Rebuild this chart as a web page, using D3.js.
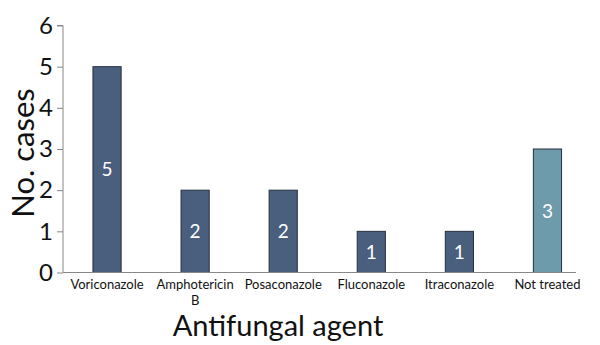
<!DOCTYPE html>
<html><head><meta charset="utf-8">
<script src="https://cdn.jsdelivr.net/npm/d3@7"></script>
<style>body{margin:0;background:#fff}svg{display:block}text{font-family:Lato,"Open Sans",sans-serif}</style>
</head><body><svg id="c" width="600" height="345"></svg>
<script>
const categories = ["Voriconazole", "Amphotericin B", "Posaconazole", "Fluconazole", "Itraconazole", "Not treated"];
const values = [5, 2, 2, 1, 1, 3];
const treated = [true, true, true, true, true, false];
const yTicks = [0, 1, 2, 3, 4, 5, 6];
const categoryLines = [["Voriconazole"], ["Amphotericin", "B"], ["Posaconazole"], ["Fluconazole"], ["Itraconazole"], ["Not treated"]];

const svg = d3.select("#c");
const x0 = 63, x1 = 591.5, yTop = 25.5, yBot = 272.5;
const x = d3.scaleBand().domain(categories).range([x0, x1]).paddingInner(0.68).paddingOuter(0.34);
const y = d3.scaleLinear().domain([0, 6]).range([yBot, yTop]);

// y axis
const ya = svg.append("g").attr("transform", `translate(${x0},0)`)
  .call(d3.axisLeft(y).tickValues(yTicks).tickSize(6).tickPadding(4).tickFormat(d3.format("d")));
ya.select(".domain").attr("stroke", "#888").attr("d", `M-6,${yTop}H0V${yBot}`);
ya.selectAll(".tick line").attr("stroke", "#888");
ya.selectAll(".tick text").attr("font-size", 24).attr("fill", "#111").attr("font-family", "Lato,sans-serif");

// bars
svg.append("g").selectAll("rect").data(categories).join("rect")
  .attr("x", d => x(d)).attr("width", x.bandwidth())
  .attr("y", (d, i) => y(values[i])).attr("height", (d, i) => y(0) - y(values[i]))
  .attr("fill", (d, i) => treated[i] ? "#4a5e7e" : "#6e9bac")
  .attr("stroke", "#273040").attr("stroke-width", 1);

// value labels
svg.append("g").selectAll("text").data(categories).join("text")
  .attr("x", d => x(d) + x.bandwidth() / 2)
  .attr("y", (d, i) => (y(values[i]) + y(0)) / 2)
  .attr("dy", "0.36em").attr("text-anchor", "middle")
  .attr("font-size", 19).attr("fill", "#fff")
  .text((d, i) => values[i]);

// x axis line
svg.append("line").attr("x1", x0).attr("x2", 576).attr("y1", yBot).attr("y2", yBot)
  .attr("stroke", "#888").attr("stroke-width", 1.2);

// category labels (each line its own text element)
categories.forEach((c, i) => {
  categoryLines[i].forEach((line, j) => {
    svg.append("text").attr("text-anchor", "middle").attr("font-size", 13)
      .attr("fill", "#111")
      .attr("x", x(c) + x.bandwidth() / 2).attr("y", yBot + 16.5 + j * 16).text(line);
  });
});

// axis titles
svg.append("text").attr("x", 278).attr("y", 336).attr("text-anchor", "middle")
  .attr("font-size", 29).attr("fill", "#111").text("Antifungal agent");
svg.append("text").attr("transform", "translate(34,153) rotate(-90)").attr("text-anchor", "middle")
  .attr("font-size", 31).attr("fill", "#111").text("No. cases");
</script></body></html>
